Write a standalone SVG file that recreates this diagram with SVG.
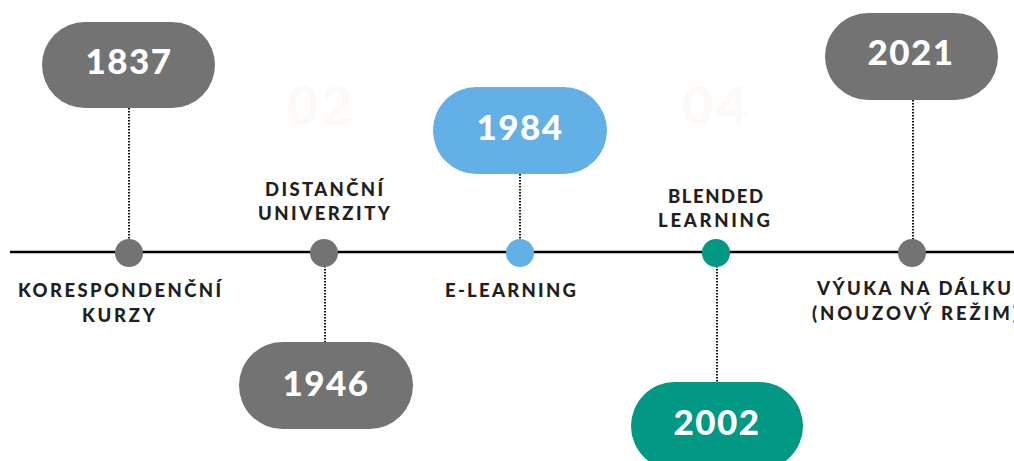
<svg xmlns="http://www.w3.org/2000/svg" width="1014" height="461" viewBox="0 0 1014 461">
<style>
.bg{fill:#ffffff}
.line{stroke:#000;stroke-width:2.4;fill:none}
.dot{stroke:#111;stroke-width:2;stroke-dasharray:1.5 1.5;fill:none}
.gray{fill:#737373}
.blue{fill:#62b0e5}
.teal{fill:#019884}
.year{font-family:Lato,"Liberation Sans",sans-serif;font-weight:900;font-size:35px;fill:#fff;text-anchor:middle;letter-spacing:1.5px}
.lbl{font-family:Lato,"Liberation Sans",sans-serif;font-weight:900;font-size:18.5px;fill:#231f20;letter-spacing:2px}
.ghost{font-family:Lato,"Liberation Sans",sans-serif;font-weight:900;font-size:54px;fill:#fdf9f7;letter-spacing:3px}
</style>
<rect class="bg" x="0" y="0" width="1014" height="461"/>
<text class="ghost" x="287" y="125">02</text>
<text class="ghost" x="682" y="125">04</text>
<g id="connectors">
<line class="line" x1="10" y1="252" x2="1014" y2="252"/>
<line class="dot" x1="129" y1="108" x2="129" y2="240"/>
<line class="dot" x1="325" y1="266" x2="325" y2="342"/>
<line class="dot" x1="520" y1="174" x2="520" y2="240"/>
<line class="dot" x1="717" y1="266" x2="717" y2="382"/>
<line class="dot" x1="913" y1="100" x2="913" y2="240"/>
</g>
<g id="n1837">
<rect class="gray" x="42" y="22" width="173" height="86" rx="43"/>
<text class="year" x="129" y="74">1837</text>
<circle class="gray" cx="129" cy="253" r="14"/>
<text class="lbl" x="18" y="297" textLength="205" lengthAdjust="spacing">KORESPONDENČNÍ</text>
<text class="lbl" x="82" y="322" textLength="75" lengthAdjust="spacing">KURZY</text>
</g>
<g id="n1946">
<rect class="gray" x="239" y="342" width="174" height="87" rx="43.5"/>
<text class="year" x="326" y="396">1946</text>
<circle class="gray" cx="324" cy="253" r="14"/>
<text class="lbl" x="265" y="196" textLength="120" lengthAdjust="spacing">DISTANČNÍ</text>
<text class="lbl" x="258" y="220" textLength="134" lengthAdjust="spacing">UNIVERZITY</text>
</g>
<g id="n1984">
<rect class="blue" x="433" y="87" width="174" height="87" rx="43.5"/>
<text class="year" x="520" y="140">1984</text>
<circle class="blue" cx="520" cy="253" r="14"/>
<text class="lbl" x="445" y="297" textLength="133" lengthAdjust="spacing">E-LEARNING</text>
</g>
<g id="n2002">
<rect class="teal" x="631" y="382" width="172" height="88" rx="44"/>
<text class="year" x="717" y="435">2002</text>
<circle class="teal" cx="716" cy="253" r="14"/>
<text class="lbl" x="668" y="203" textLength="97" lengthAdjust="spacing">BLENDED</text>
<text class="lbl" x="658" y="227" textLength="114" lengthAdjust="spacing">LEARNING</text>
</g>
<g id="n2021">
<rect class="gray" x="825" y="13" width="173" height="87" rx="43.5"/>
<text class="year" x="911" y="65">2021</text>
<circle class="gray" cx="912" cy="253" r="14"/>
<text class="lbl" x="817" y="295" textLength="196" lengthAdjust="spacing">VÝUKA NA DÁLKU</text>
<text class="lbl" x="812" y="320" textLength="208" lengthAdjust="spacing">(NOUZOVÝ REŽIM)</text>
</g>
</svg>
